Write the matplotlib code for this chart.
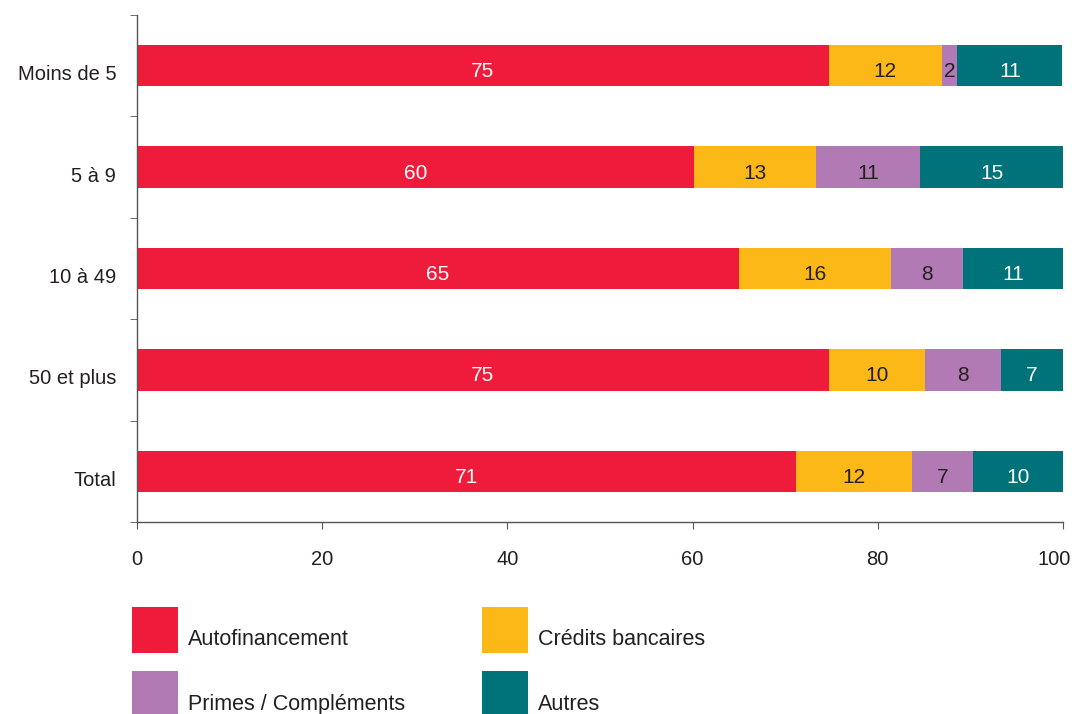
import matplotlib

matplotlib.use('Agg')

import matplotlib.pyplot as plt
from matplotlib.patches import Rectangle
from matplotlib.transforms import ScaledTranslation

# data (shares in %, top to bottom)
categories = ['Moins de 5', '5 à 9', '10 à 49', '50 et plus', 'Total']
series_names = ['Autofinancement', 'Crédits bancaires', 'Primes / Compléments', 'Autres']
autofinancement = [74.7, 60.2, 65.0, 74.7, 71.2]
credits = [12.2, 13.1, 16.4, 10.4, 12.5]
primes = [1.7, 11.3, 7.8, 8.2, 6.6]
autres = [11.3, 15.4, 10.8, 6.7, 9.7]
# printed labels (rounded values as shown on the bars)
lab_auto = [75, 60, 65, 75, 71]
lab_cred = [12, 13, 16, 10, 12]
lab_prim = [2, 11, 8, 8, 7]
lab_autr = [11, 15, 11, 7, 10]
xticks = [0, 20, 40, 60, 80, 100]

colors = ['#EE1B3A', '#FBB817', '#B27AB4', '#00727A']
text_colors = ['white', '#231F20', '#231F20', 'white']
dark = '#231F20'
axis_col = '#555555'

plt.rcParams['font.family'] = ['Liberation Sans', 'DejaVu Sans']
plt.rcParams['font.size'] = 14.5

fig = plt.figure(figsize=(10.75, 7.14), dpi=100)
ax = fig.add_axes([137 / 1075, 1 - 522 / 714, (1063 - 137) / 1075, (522 - 15) / 714])

ypos = list(range(len(categories)))
series = [autofinancement, credits, primes, autres]
labels = [lab_auto, lab_cred, lab_prim, lab_autr]

left = [0.0] * len(categories)
for vals, labs, col, tcol in zip(series, labels, colors, text_colors):
    ax.barh(ypos, vals, left=left, height=0.41, color=col, linewidth=0)
    for y, v, l, lab in zip(ypos, vals, left, labs):
        ax.text(l + v / 2, y + 0.06, str(lab), ha='center', va='center', color=tcol, fontsize=15)
    left = [a + b for a, b in zip(left, vals)]

ax.set_xlim(0, 100)
ax.set_ylim(len(categories) - 0.5, -0.5)
ax.set_xticks(xticks)
ax.set_xticklabels([str(t) for t in xticks], color=dark)
ax.set_yticks(ypos)
ax.set_yticklabels(categories, color=dark)
ax.set_yticks([i - 0.5 for i in range(len(categories) + 1)], minor=True)
ax.tick_params(axis='y', which='major', length=0, pad=15)
ax.tick_params(axis='y', which='minor', length=5, direction='out', color=axis_col)
ax.tick_params(axis='x', length=5, direction='out', color=axis_col, pad=15)

# y labels sit a little below the bar centre, last x label pulled inside
down = ScaledTranslation(0, -0.07, fig.dpi_scale_trans)
for lab in ax.get_yticklabels():
    lab.set_transform(lab.get_transform() + down)
last = ax.get_xticklabels()[-1]
last.set_transform(last.get_transform() + ScaledTranslation(-0.085, 0, fig.dpi_scale_trans))

for s in ['top', 'right']:
    ax.spines[s].set_visible(False)
for s in ['left', 'bottom']:
    ax.spines[s].set_color(axis_col)
    ax.spines[s].set_linewidth(1.0)


# legend drawn by hand: square with text sitting at its lower edge
def px(x, y):
    return x / 1075, 1 - y / 714


legend_pos = [(132, 607, 645), (482, 607, 645), (132, 671, 710), (482, 671, 710)]
for (x0, y0, base), name, col in zip(legend_pos, series_names, colors):
    fx, fy = px(x0, y0 + 46)
    fig.patches.append(Rectangle((fx, fy), 46 / 1075, 46 / 714, transform=fig.transFigure,
                                 facecolor=col, edgecolor='none'))
    tx, ty = px(x0 + 56, base)
    fig.text(tx, ty, name, ha='left', va='baseline', color=dark, fontsize=15.5)

fig.savefig('out.png', dpi=100)
